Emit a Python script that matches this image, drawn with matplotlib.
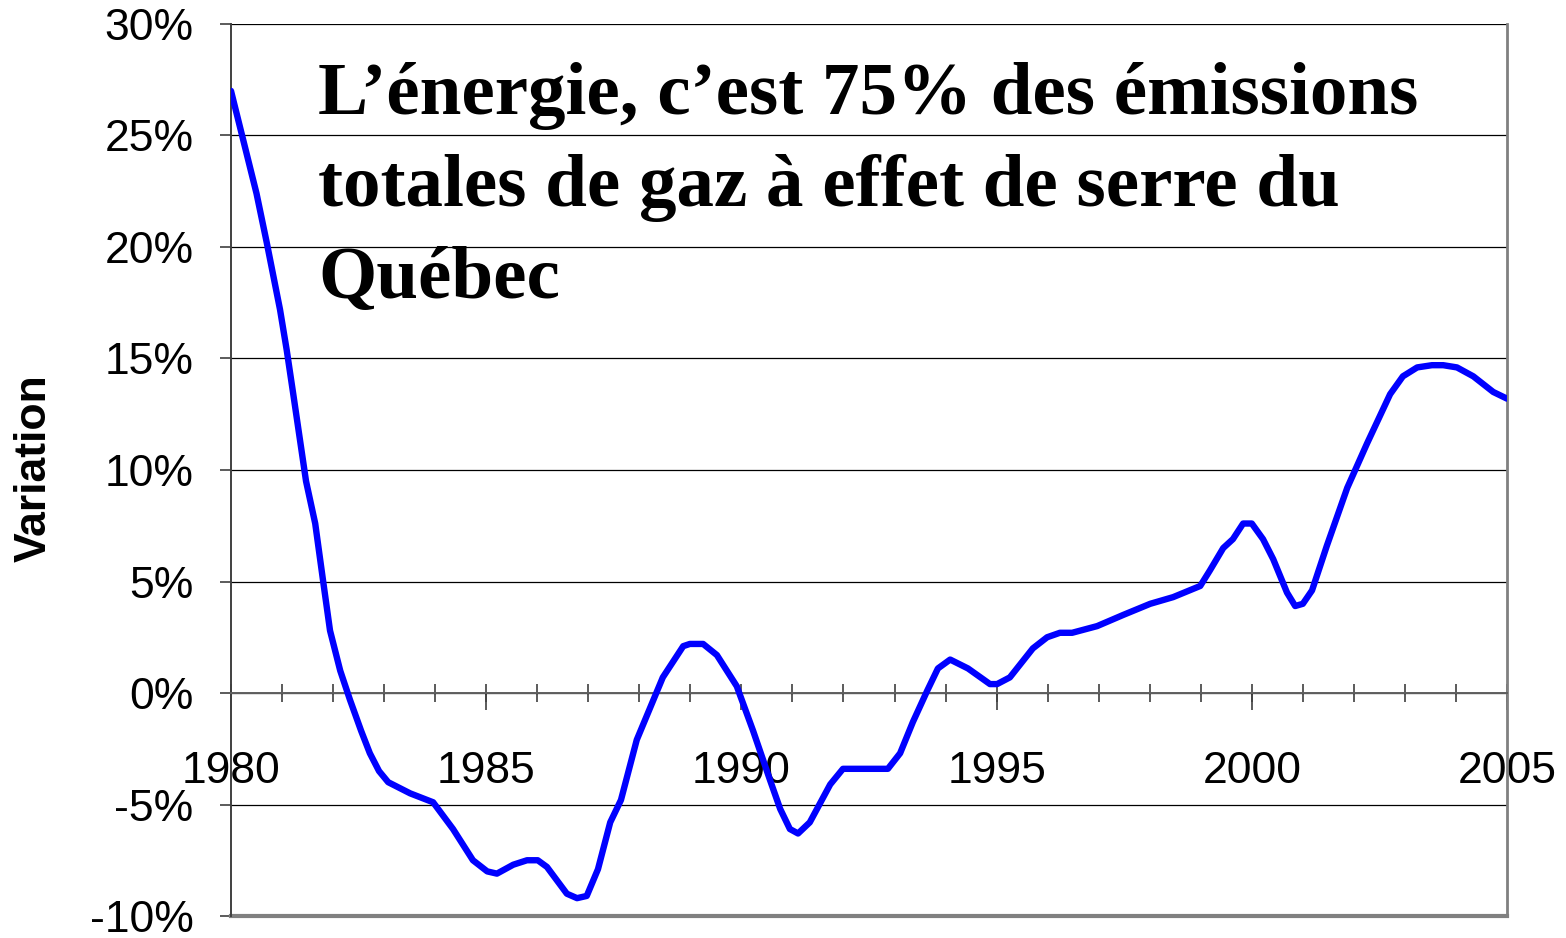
import matplotlib.pyplot as plt
from matplotlib.ticker import MultipleLocator, FuncFormatter

# ==========================================
# Data
# ==========================================

years = [
    1980.00, 1980.50, 1980.70, 1980.96, 1981.09, 1981.22, 1981.47, 1981.65,
    1981.80, 1981.94, 1982.14, 1982.33, 1982.55, 1982.72, 1982.90, 1983.08,
    1983.51, 1983.96, 1984.35, 1984.74, 1985.02, 1985.21, 1985.53, 1985.80,
    1986.01, 1986.19, 1986.58, 1986.78, 1986.97, 1987.19, 1987.43, 1987.64,
    1987.95, 1988.46, 1988.86, 1988.99, 1989.25, 1989.52, 1989.91, 1990.23,
    1990.56, 1990.76, 1990.95, 1991.11, 1991.34, 1991.74, 1991.99, 1992.13,
    1992.87, 1993.11, 1993.36, 1993.64, 1993.85, 1994.09, 1994.44, 1994.87,
    1995.01, 1995.26, 1995.71, 1995.99, 1996.24, 1996.48, 1996.97, 1997.48,
    1998.01, 1998.46, 1998.99, 1999.18, 1999.44, 1999.63, 1999.83, 2000.00,
    2000.22, 2000.42, 2000.69, 2000.85, 2001.00, 2001.18, 2001.47, 2001.87,
    2002.26, 2002.71, 2002.96, 2003.24, 2003.53, 2003.75, 2004.02, 2004.34,
    2004.73, 2005.00,
]

variation = [
    27.0, 22.4, 20.2, 17.2, 15.4, 13.4, 9.5, 7.6,
    5.1, 2.8, 1.0, -0.3, -1.7, -2.7, -3.5, -4.0,
    -4.5, -4.9, -6.1, -7.5, -8.0, -8.1, -7.7, -7.5,
    -7.5, -7.8, -9.0, -9.2, -9.1, -7.9, -5.8, -4.8,
    -2.1, 0.7, 2.1, 2.2, 2.2, 1.7, 0.3, -1.7,
    -3.9, -5.2, -6.1, -6.3, -5.8, -4.1, -3.4, -3.4,
    -3.4, -2.7, -1.3, 0.1, 1.1, 1.5, 1.1, 0.4,
    0.4, 0.7, 2.0, 2.5, 2.7, 2.7, 3.0, 3.5,
    4.0, 4.3, 4.8, 5.5, 6.5, 6.9, 7.6, 7.6,
    6.9, 6.0, 4.5, 3.9, 4.0, 4.6, 6.6, 9.2,
    11.2, 13.4, 14.2, 14.6, 14.7, 14.7, 14.6, 14.2,
    13.5, 13.2,
]

title_text = ("L\u2019énergie, c\u2019est 75% des émissions\n"
              "totales de gaz à effet de serre du\n"
              "Québec")

# ==========================================
# Figure
# ==========================================

plt.rcParams['font.family'] = ['Liberation Sans', 'DejaVu Sans']

fig = plt.figure(figsize=(15.66, 9.38), dpi=100)
ax = fig.add_axes([231 / 1566, 1 - 916 / 938, 1276 / 1566, 892 / 938])

ax.plot(years, variation, color="#0000FF", linewidth=4.6,
        solid_joinstyle="round", solid_capstyle="round", zorder=3)

ax.set_xlim(1980, 2005)
ax.set_ylim(-10, 30)

# y axis
ax.yaxis.set_major_locator(MultipleLocator(5))
ax.yaxis.set_major_formatter(FuncFormatter(lambda v, p: f"{v:.0f}%"))
ax.grid(axis="y", color="black", linewidth=0.9)
ax.tick_params(axis="y", direction="out", length=8, width=1.2, color="#404040",
               pad=19, labelsize=32)

# x axis crossing at 0
ax.spines["bottom"].set_position(("data", 0))
ax.spines["bottom"].set_color("#606060")
ax.spines["bottom"].set_linewidth(1.4)
ax.xaxis.set_major_locator(MultipleLocator(5))
ax.xaxis.set_minor_locator(MultipleLocator(1))
ax.xaxis.remove_overlapping_locs = False
ax.xaxis.set_major_formatter(FuncFormatter(lambda v, p: f"{v:.0f}"))
ax.tick_params(axis="x", which="major", direction="out", length=12, width=1.2,
               color="#404040", pad=30, labelsize=32)
ax.tick_params(axis="x", which="minor", direction="inout", length=13, width=1.2,
               color="#404040")

ax.spines["left"].set_color("#404040")
ax.spines["left"].set_linewidth(1.4)
ax.spines["right"].set_color("#808080")
ax.spines["right"].set_linewidth(2)
ax.spines["top"].set_visible(False)
ax.axhline(-10, color="#808080", linewidth=3, clip_on=False, zorder=2)

fig.text(34 / 1566, 1 - 468 / 938, "Variation", rotation=90, ha="center", va="center",
         fontsize=32, fontweight="bold")

fig.text(318 / 1566, 1 - 62 / 938, title_text, ha="left", va="top",
         family=["Liberation Serif", "DejaVu Serif"], fontweight="bold",
         fontsize=54, linespacing=1.46)

fig.savefig("out.png", dpi=100)
